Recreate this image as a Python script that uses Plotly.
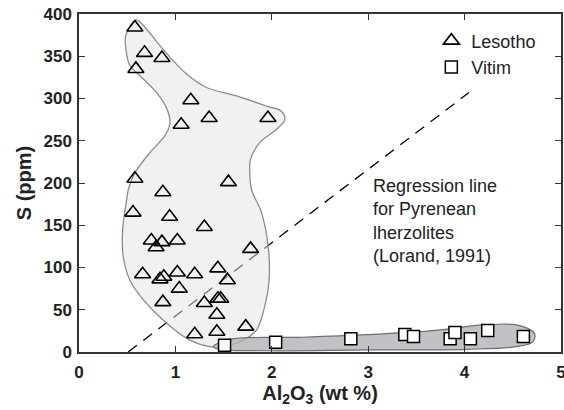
import plotly.graph_objects as go

# Lesotho data (Al2O3 wt%, S ppm)
les_al = [0.58, 0.68, 0.86, 0.59, 1.16, 1.35, 1.96, 1.06, 0.58, 1.55,
          0.87, 0.56, 0.94, 1.30, 0.75, 0.86, 1.02, 0.80, 1.78, 0.66,
          0.88, 0.84, 1.02, 1.20, 1.44, 1.54, 1.04, 0.87, 1.30, 1.44,
          1.47, 1.43, 1.20, 1.43, 1.73]
les_s = [384, 354, 348, 335, 298, 277, 277, 269, 205, 201,
         189, 165, 160, 148, 132, 130, 132, 124, 122, 92,
         89, 86, 94, 92, 99, 85, 75, 59, 58, 63,
         63, 44, 21, 24, 30]

# Vitim data
vit_al = [1.51, 2.04, 2.82, 3.38, 3.47, 3.85, 3.90, 4.06, 4.24, 4.61]
vit_s = [8, 11.5, 15.8, 20.6, 18.2, 15.8, 23, 15.8, 25.3, 18.2]

# Envelopes (field outlines)
les_env_x = [0.563, 0.484, 0.487, 0.528, 0.632, 0.805, 0.915, 0.943, 0.891, 0.736,
             0.580, 0.511, 0.494, 0.453, 0.459, 0.528, 0.666, 0.909, 1.150, 1.358,
             1.495, 1.703, 1.841, 1.927, 1.972, 1.962, 1.893, 1.790, 1.772, 1.779,
             1.876, 2.049, 2.135, 2.100, 1.945, 1.634, 1.323, 1.116, 0.874, 0.702,
             0.600, 0.563]
les_env_y = [391, 374, 358, 339, 327, 307, 287, 271, 256, 236,
             212, 192, 180, 145, 113, 85, 62, 34, 14, 6.3,
             6.3, 14, 26, 54, 85, 125, 165, 192, 212, 228,
             248, 263.5, 275, 285, 291, 303, 313, 329, 358, 382,
             393, 391]

vit_env_x = [1.392, 1.565, 2.290, 2.981, 3.672, 4.190, 4.536, 4.725, 4.708, 4.536,
             4.018, 2.981, 1.945, 1.461, 1.392]
vit_env_y = [6.3, 15, 17.4, 20.5, 25.3, 32, 32, 22, 12, 6.3,
             3.2, 2.4, 1.5, 3.2, 6.3]

# Regression line for Pyrenean lherzolites (Lorand, 1991)
reg_x = [0.51, 4.045]
reg_y = [0, 307]

FONT = "Liberation Sans, Arial, sans-serif"

fig = go.Figure()

fig.add_trace(go.Scatter(x=reg_x, y=reg_y, mode="lines",
                         line=dict(color="black", width=1.3, dash="11px,8px"),
                         showlegend=False, hoverinfo="skip"))

fig.add_trace(go.Scatter(x=les_env_x, y=les_env_y, mode="lines", fill="toself",
                         fillcolor="rgba(225,227,231,0.5)",
                         line=dict(color="#8c8c8c", width=1.3, shape="spline", smoothing=1),
                         showlegend=False, hoverinfo="skip"))

fig.add_trace(go.Scatter(x=vit_env_x, y=vit_env_y, mode="lines", fill="toself",
                         fillcolor="rgba(178,180,186,0.82)",
                         line=dict(color="#6e6e6e", width=1.2, shape="spline", smoothing=1),
                         showlegend=False, hoverinfo="skip"))

fig.add_trace(go.Scatter(x=les_al, y=les_s, mode="markers", name="Lesotho",
                         marker=dict(symbol="triangle-up-open", size=14,
                                     color="black", line=dict(width=1.6, color="black"))))

fig.add_trace(go.Scatter(x=vit_al, y=vit_s, mode="markers", name="Vitim",
                         marker=dict(symbol="square", size=12, color="white",
                                     line=dict(width=1.5, color="black"))))

fig.add_annotation(x=(373 - 79) / 482.5, y=(352 - 221) / 338, xref="paper", yref="paper",
                   text="Regression line<br>for Pyrenean<br>lherzolites<br>(Lorand, 1991)",
                   showarrow=False, xanchor="left", yanchor="middle", align="left",
                   xshift=-2,
                   font=dict(family=FONT, size=18, color="#222"))

axis_common = dict(showline=True, linecolor="#333", linewidth=1.5, mirror="ticks",
                   ticks="inside", ticklen=6, tickwidth=1.2, tickcolor="#333",
                   showgrid=False, zeroline=False, automargin=False,
                   ticklabeloverflow="allow",
                   tickfont=dict(family=FONT, size=17, color="#222", weight="bold"))

fig.update_layout(
    width=564, height=410,
    margin=dict(l=79, r=3, t=14, b=58),
    paper_bgcolor="white", plot_bgcolor="white",
    xaxis=dict(range=[0, 5], dtick=1, ticklabelstandoff=4,
               title=dict(text="Al<sub>2</sub>O<sub>3</sub> (wt %)", standoff=0,
                          font=dict(family=FONT, size=20, color="#222", weight="bold")),
               **axis_common),
    yaxis=dict(range=[0, 400], dtick=50, ticklabelstandoff=2,
               title=dict(text="S (ppm)", standoff=6,
                          font=dict(family=FONT, size=20, color="#222", weight="bold")),
               **axis_common),
    legend=dict(x=0.731, y=0.975, xanchor="left", yanchor="top",
                bgcolor="rgba(0,0,0,0)", font=dict(family=FONT, size=18, color="#222"),
                itemwidth=30, tracegroupgap=0),
    showlegend=True,
)

fig.write_html("out.html")
